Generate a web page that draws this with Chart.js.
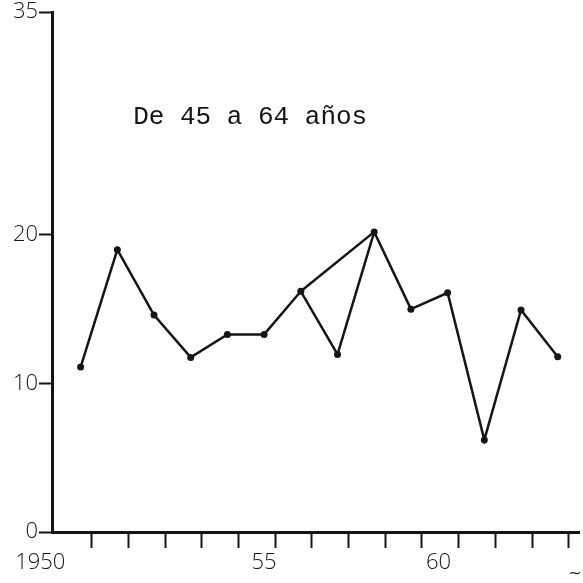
<!DOCTYPE html>
<html>
<head>
<meta charset="utf-8">
<script src="https://cdn.jsdelivr.net/npm/chart.js@4.4.1/dist/chart.umd.min.js"></script>
<style>
  html, body { margin: 0; padding: 0; background: #fff; }
  #wrap { width: 583px; height: 583px; }
</style>
</head>
<body>
<div id="wrap"><canvas id="chart"></canvas></div>
<script>
// Datos (tasa, 45 a 64 años)
const years = [1950, 1951, 1952, 1953, 1954, 1955, 1956, 1957, 1958, 1959, 1960, 1961, 1962, 1963];
const values = [11.1, 19.0, 14.6, 11.75, 13.3, 13.3, 16.2, 11.95, 20.2, 15.0, 16.1, 6.2, 14.95, 11.8];

const yTicks = [0, 10, 20, 35];
const xLabels = ['1950', '55', '60'];
const xLabelAt = [1948.9, 1955, 1959.75];

const seriesTitle = 'De 45 a 64 años';

const ink = '#151515';
const axisFont = { family: "'Open Sans', 'DejaVu Sans', sans-serif", size: 22, weight: '300' };

// trazo extra dibujado a mano: de 1956 directo a 1958
const extraSeg = [
    { x: years[6], y: values[6] },
    { x: years[8], y: values[8] }
];

// texto dentro del área del gráfico
const notePlugin = {
    id: 'note',
    afterDraw(chart) {
        const ctx = chart.ctx;
        const xs = chart.scales.x, ys = chart.scales.y;
        ctx.save();
        ctx.fillStyle = ink;
        ctx.font = "26px 'Liberation Mono', monospace";
        ctx.textAlign = 'center';
        ctx.textBaseline = 'middle';
        ctx.fillText(seriesTitle, xs.getPixelForValue(1954.62), ys.getPixelForValue(27.9));
        ctx.font = "16px 'DejaVu Sans', sans-serif";
        ctx.fillText('~', 575, 574);
        ctx.restore();
    }
};

new Chart(document.getElementById('chart'), {
    type: 'line',
    data: {
        datasets: [{
            data: years.map((y, i) => ({ x: y, y: values[i] })),
            borderColor: ink,
            borderWidth: 2.5,
            pointRadius: 3.5,
            pointBackgroundColor: ink,
            pointBorderWidth: 0,
            tension: 0
        }, {
            data: extraSeg,
            borderColor: ink,
            borderWidth: 2.5,
            pointRadius: 0,
            tension: 0
        }]
    },
    options: {
        responsive: true,
        maintainAspectRatio: false,
        animation: false,
        layout: { padding: { top: 12, right: 0, bottom: 0, left: 0 } },
        plugins: {
            legend: { display: false },
            tooltip: { enabled: false }
        },
        scales: {
            x: {
                type: 'linear',
                min: 1949.22,
                max: 1963.58,
                border: { color: ink, width: 3 },
                grid: {
                    drawOnChartArea: false,
                    drawTicks: true,
                    tickLength: 16,
                    tickWidth: 2,
                    tickColor: c => (c.tick && c.tick.label === '') ? ink : 'rgba(0,0,0,0)'
                },
                afterBuildTicks(scale) {
                    const marks = years.map(y => ({ value: y + 0.3, label: '' }));
                    const labs = xLabelAt.map((v, i) => ({ value: v, label: xLabels[i] }));
                    scale.ticks = marks.concat(labs);
                },
                ticks: {
                    autoSkip: false,
                    maxRotation: 0,
                    padding: 2,
                    color: ink,
                    font: axisFont,
                    callback: function(value, index, ticks) { return ticks[index].label; }
                },
                afterFit(scale) {
                    scale.height = 51;
                    scale.paddingLeft = 0;
                    scale.paddingRight = 0;
                }
            },
            y: {
                min: 0,
                max: 35,
                border: { color: ink, width: 3 },
                grid: {
                    drawOnChartArea: false,
                    tickLength: 13,
                    tickWidth: 2,
                    tickColor: ink
                },
                afterBuildTicks(scale) {
                    scale.ticks = yTicks.map(v => ({ value: v }));
                },
                ticks: {
                    padding: 1,
                    color: ink,
                    font: axisFont
                },
                afterFit(scale) {
                    scale.width = 52;
                    scale.paddingTop = 0;
                    scale.paddingBottom = 0;
                }
            }
        }
    },
    plugins: [notePlugin]
});
</script>
</body>
</html>
